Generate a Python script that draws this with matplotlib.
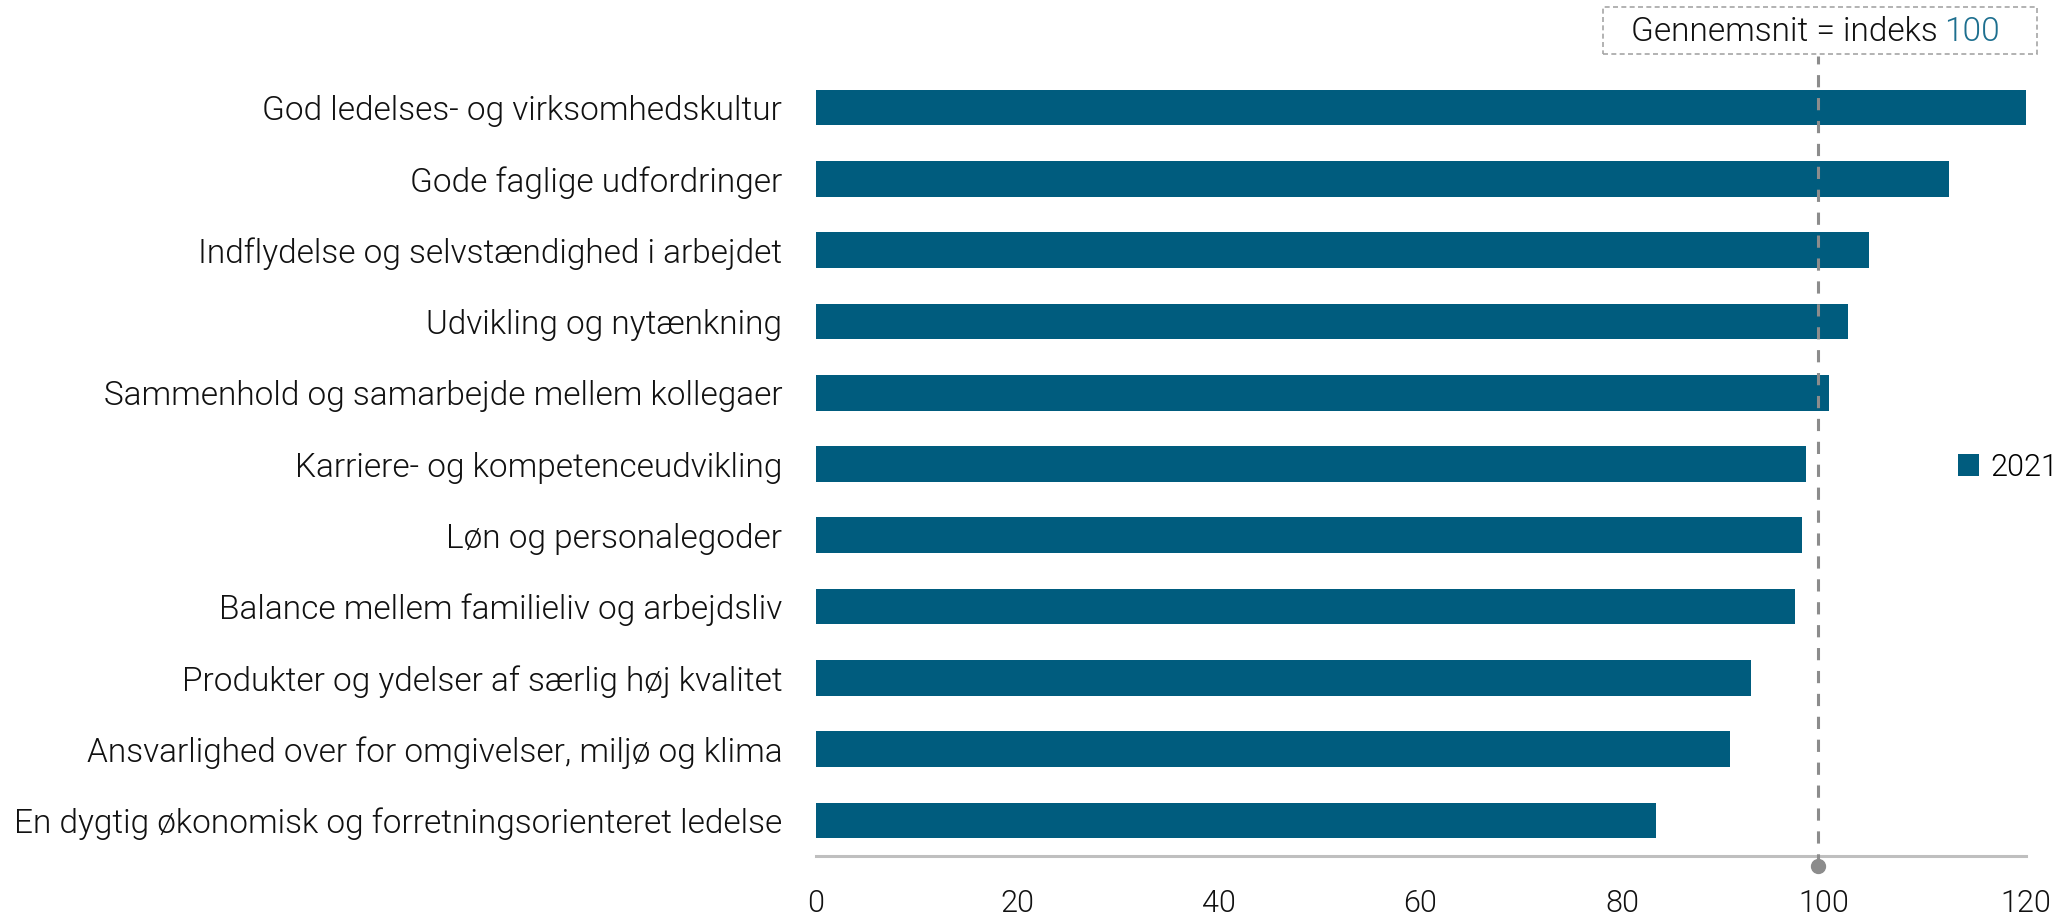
import matplotlib.pyplot as plt
from matplotlib.patches import Rectangle
from matplotlib.transforms import blended_transform_factory

categories = [
    "God ledelses- og virksomhedskultur",
    "Gode faglige udfordringer",
    "Indflydelse og selvstændighed i arbejdet",
    "Udvikling og nytænkning",
    "Sammenhold og samarbejde mellem kollegaer",
    "Karriere- og kompetenceudvikling",
    "Løn og personalegoder",
    "Balance mellem familieliv og arbejdsliv",
    "Produkter og ydelser af særlig høj kvalitet",
    "Ansvarlighed over for omgivelser, miljø og klima",
    "En dygtig økonomisk og forretningsorienteret ledelse",
]
values_2021 = [120.0, 112.4, 104.5, 102.4, 100.5, 98.2, 97.8, 97.1, 92.8, 90.7, 83.4]
average_pos = 99.4
xticks = [0, 20, 40, 60, 80, 100, 120]

bar_color = "#005c7e"
grey = "#8c8c8c"
font = "Roboto"

plt.rcParams["font.family"] = [font, "DejaVu Sans"]
plt.rcParams["font.weight"] = 300

W, H = 2059, 919
fig = plt.figure(figsize=(W / 100, H / 100), dpi=100)
ax = fig.add_axes([815.5 / W, 1 - 856 / H, (2025.5 - 815.5) / W, (856 - 72) / H])

ypos = list(range(len(categories)))
ax.barh(ypos, values_2021, height=0.5, color=bar_color, label="2021", zorder=2)
ax.set_ylim(len(categories) - 0.5, -0.5)
ax.set_xlim(0, 120)
ax.set_yticks(ypos)
ax.set_yticklabels(categories, fontsize=24, color="#111111")
ax.set_xticks(xticks)
ax.set_xticklabels([str(t) for t in xticks], fontsize=22, color="#111111")
ax.tick_params(axis="y", length=0, pad=24)
ax.tick_params(axis="x", length=0, pad=24)
for s in ["top", "right", "left"]:
    ax.spines[s].set_visible(False)
ax.spines["bottom"].set_color("#bfbfbf")
ax.spines["bottom"].set_linewidth(2.2)

# average line, from box down to a dot under the axis
tr = blended_transform_factory(ax.transData, ax.transAxes)
ax.plot([average_pos, average_pos], [-0.013, 1.02], transform=tr, color=grey,
        lw=2.2, ls=(0, (4, 3.5)), clip_on=False, zorder=3)
ax.plot([average_pos], [-0.013], transform=tr, marker="o", ms=10, color=grey,
        clip_on=False, zorder=4)

# box on top
fig.patches.append(Rectangle((1603 / W, 1 - 54 / H), (2037 - 1603) / W, 47 / H,
                             transform=fig.transFigure, fill=False, ec="#a6a6a6",
                             lw=1.2, ls=(0, (3, 2))))
fig.text(1938 / W, 1 - 32 / H, "Gennemsnit = indeks", ha="right", va="center",
         fontsize=24, color="#111111")
fig.text(1944 / W, 1 - 32 / H, "100", ha="left", va="center",
         fontsize=24, color="#1d6f8f")

leg = ax.legend(loc="center left", bbox_to_anchor=(1958 / W, 1 - 467 / H),
                bbox_transform=fig.transFigure, frameon=False, fontsize=22,
                handlelength=0.7, handleheight=0.7, handletextpad=0.35,
                borderpad=0, borderaxespad=0)

fig.savefig("out.png", dpi=100)
